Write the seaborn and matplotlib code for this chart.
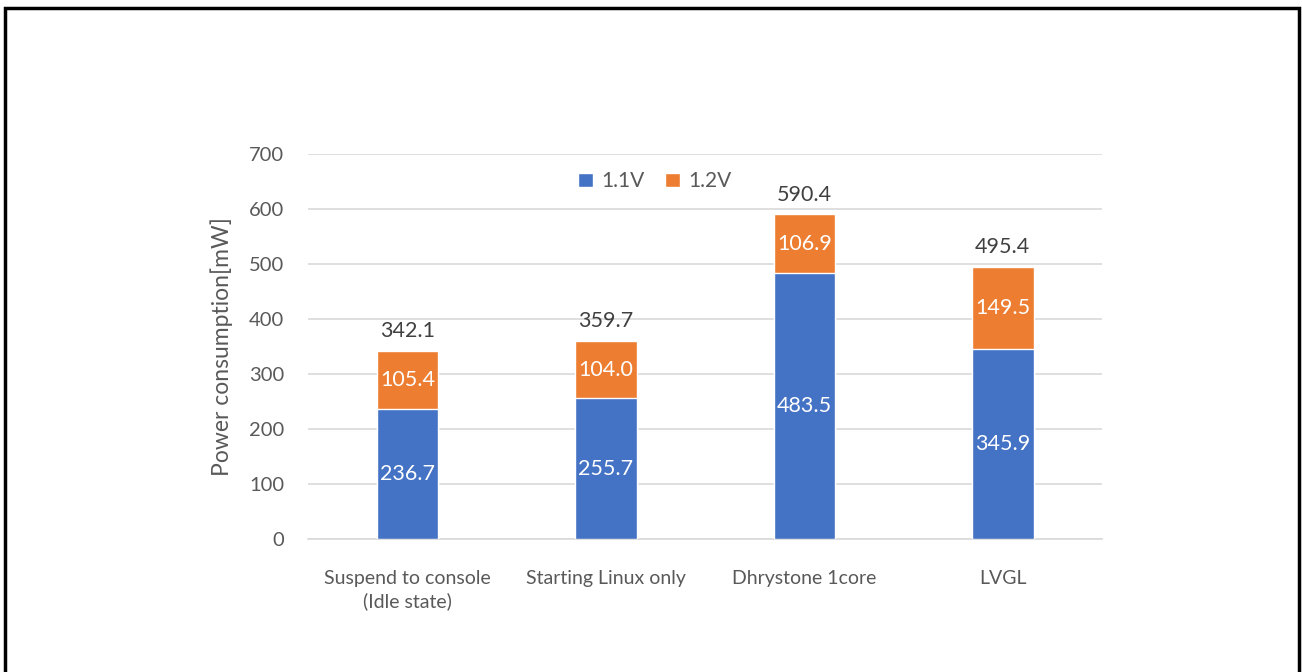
import matplotlib.pyplot as plt
import pandas as pd
import seaborn as sns
from matplotlib.patches import Rectangle

categories = ['Suspend to console\n(Idle state)', 'Starting Linux only', 'Dhrystone 1core', 'LVGL']
v11 = [236.7, 255.7, 483.5, 345.9]
v12 = [105.4, 104.0, 106.9, 149.5]
totals = [342.1, 359.7, 590.4, 495.4]

BLUE = '#4472C4'
ORANGE = '#ED7D31'
GREY = '#595959'

sns.set_theme(style='white')
plt.rcParams['font.family'] = ['Lato', 'DejaVu Sans']

df = pd.DataFrame({'category': categories, 'v11': v11, 'v12': v12, 'total': totals})

fig = plt.figure(figsize=(13.02, 6.72), dpi=100)
ax = fig.add_axes([0.2366, 0.1979, 0.6098, 0.5729])

# orange = full stack, blue drawn on top
sns.barplot(data=df, x='category', y='total', color=ORANGE, width=0.31,
            saturation=1, ax=ax, label='1.2V', zorder=2)
sns.barplot(data=df, x='category', y='v11', color=BLUE, width=0.31,
            saturation=1, ax=ax, label='1.1V', zorder=3)

for i, row in df.iterrows():
    ax.text(i, row['v11'] / 2, f"{row['v11']:.1f}", ha='center', va='center',
            color='white', fontsize=15.5, zorder=4)
    ax.text(i, row['v11'] + row['v12'] / 2, f"{row['v12']:.1f}", ha='center',
            va='center', color='white', fontsize=15.5, zorder=4)
    ax.annotate(f"{row['total']:.1f}", (i, row['total']), xytext=(0, 7),
                textcoords='offset points', ha='center', va='bottom',
                color='#404040', fontsize=15.5)

ax.set_ylim(0, 700)
ax.set_xlim(-0.5, 3.5)
ax.set_yticks(range(0, 701, 100))
ax.yaxis.grid(True, color='#D9D9D9', linewidth=1.2, zorder=0)
ax.set_axisbelow(True)
for side in ['left', 'right', 'top']:
    ax.spines[side].set_visible(False)
ax.spines['bottom'].set_color('#D9D9D9')
ax.spines['bottom'].set_linewidth(1.2)
ax.tick_params(axis='y', length=0, pad=17, labelsize=14.5, labelcolor=GREY)
ax.tick_params(axis='x', length=0, pad=22, labelsize=14, labelcolor=GREY)
for lbl in ax.get_xticklabels():
    lbl.set_linespacing(1.35)
ax.set_xlabel('')
ax.set_ylabel('Power consumption[mW]', fontsize=16.5, color=GREY, labelpad=12)

handles, labels = ax.get_legend_handles_labels()
order = [labels.index('1.1V'), labels.index('1.2V')]
fig.legend([handles[k] for k in order], [labels[k] for k in order],
           loc='center', bbox_to_anchor=(0.503, 0.73), ncol=2, frameon=False,
           fontsize=15, labelcolor=GREY, handlelength=0.7, handleheight=0.7,
           handletextpad=0.4, columnspacing=1.0)
if ax.get_legend() is not None:
    ax.get_legend().remove()

fig.patches.append(Rectangle((5 / 1302, -0.02), 1294 / 1302, 1.02 - 8 / 672,
                             transform=fig.transFigure, fill=False,
                             edgecolor='black', linewidth=2.5))

fig.savefig('out.png', dpi=100)
